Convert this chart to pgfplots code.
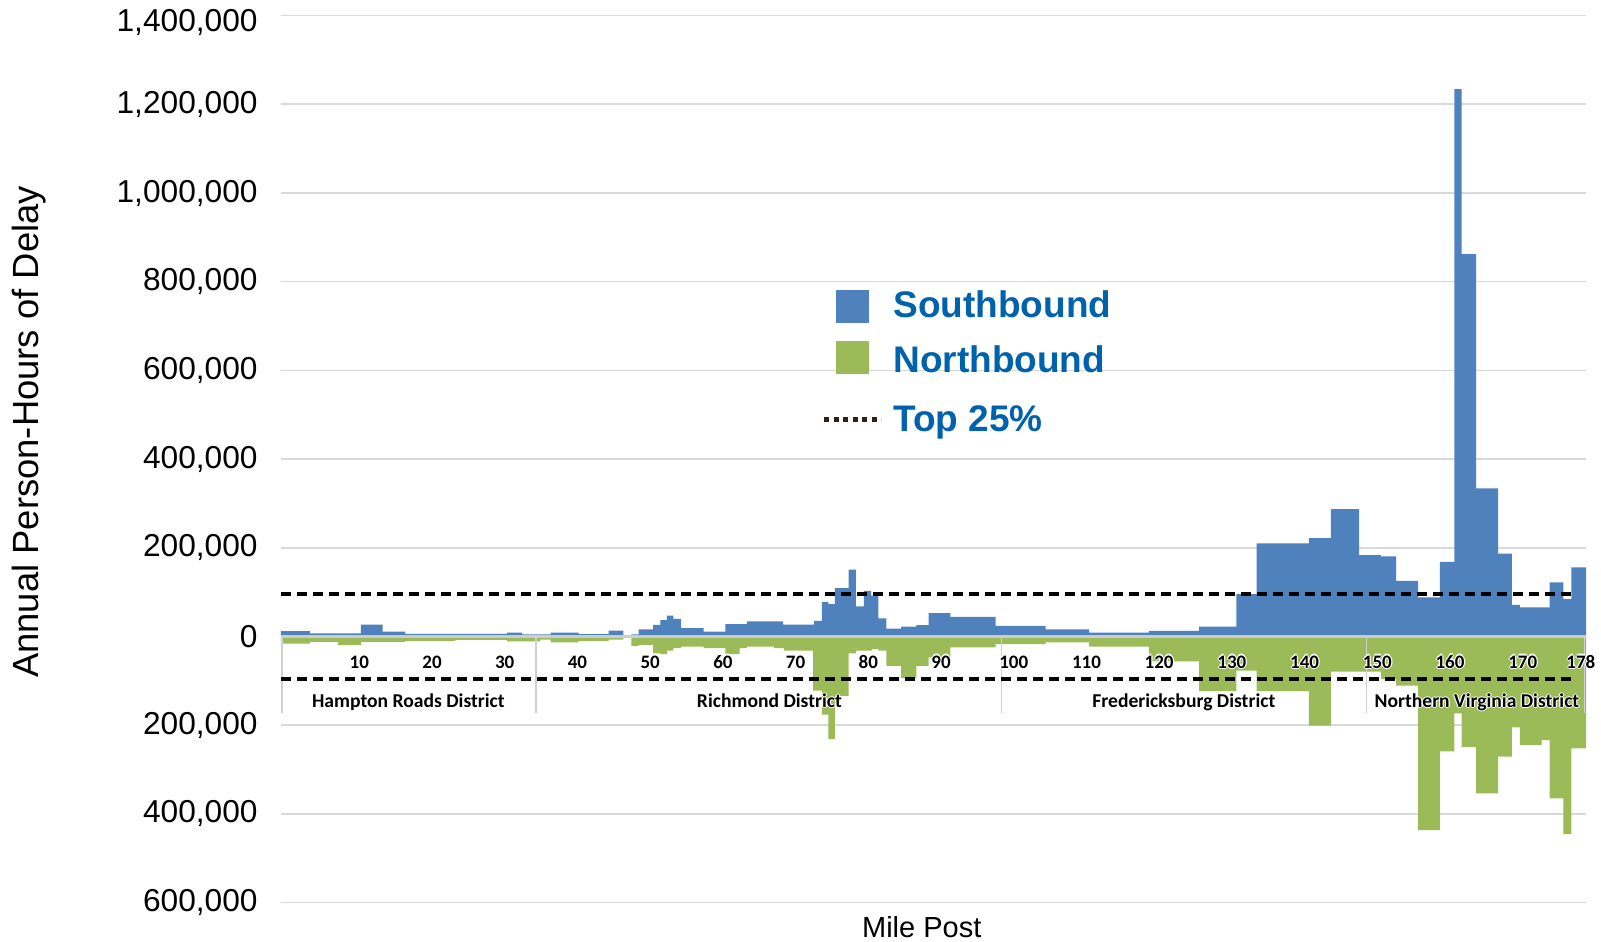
\documentclass[border=0pt]{standalone}
\usepackage{fontspec}
\setmainfont{Liberation Sans}
\newfontfamily\calibri{Carlito}
\usepackage{pgfplots}
\usepackage{pgfplotstable}
\pgfplotsset{compat=1.18}

\definecolor{sbblue}{RGB}{79,129,189}
\definecolor{nbgreen}{RGB}{155,187,89}
\definecolor{legtext}{RGB}{0,98,172}
\definecolor{gridcol}{RGB}{217,217,217}
\definecolor{legdot}{RGB}{42,33,24}

% white glow round labels that sit on the bars
\newcommand{\halo}[1]{{%
  \rlap{\textcolor{white}{\kern0.6pt#1}}%
  \rlap{\textcolor{white}{\kern-0.6pt#1}}%
  \rlap{\textcolor{white}{\raisebox{0.6pt}{#1}}}%
  \rlap{\textcolor{white}{\raisebox{-0.6pt}{#1}}}%
  #1}}

% left edge of each section (mile post) and its delay
\pgfplotstableread{
mile delay
-0.77 12000
3.2 7000
10.2 27000
13.2 11000
16.3 6000
30.3 9000
32.4 5000
36.3 9000
40.15 5500
44.3 13000
46.3 1000
47.4 5000
48.4 16000
50.4 26000
51.4 37000
52.3 47000
53.2 40000
54.25 19000
57.35 11000
60.35 28000
63.3 34000
68.3 27000
72.5 35000
73.6 78000
74.5 73000
75.4 109000
77.3 151000
78.3 68000
79.4 103000
80.4 92000
81.4 41000
82.5 18000
84.5 22500
86.6 25600
88.3 52700
91.3 44400
97.5 24000
104.4 16000
110.35 9000
118.6 12800
125.5 22000
130.6 95600
133.4 209700
140.6 222000
143.6 287000
147.5 183500
150.5 180400
152.6 125600
155.6 88000
158.6 168400
160.6 1234000
161.6 862000
163.6 333700
166.6 187000
168.5 71500
169.6 65400
173.7 121800
175.6 84000
176.7 155600
178.7 155600
}\southbound

\pgfplotstableread{
mile delay
-0.77 -15800
3.2 -12000
7.1 -18700
10.2 -12000
16.3 -9700
23.2 -7400
30.3 -11000
34.9 -7000
36.3 -13500
40.15 -9700
44.3 -6800
46.3 -1000
47.4 -21000
48.4 -18700
50.4 -38000
51.4 -40000
52.3 -32000
53.2 -26000
54.25 -23000
57.35 -26000
60.35 -40000
62.3 -26000
63.3 -23000
67.0 -26000
68.4 -32000
72.4 -122000
73.6 -176000
74.5 -231000
75.4 -134000
77.3 -38000
78.3 -32000
80.5 -28000
81.4 -32000
82.5 -66000
84.5 -94000
86.6 -66000
88.3 -47000
91.3 -24800
97.5 -17000
104.4 -13000
110.35 -23000
118.6 -56000
125.5 -123000
130.6 -77000
133.4 -123000
140.6 -201000
143.6 -79000
150.5 -96000
152.6 -111000
155.6 -436600
158.6 -259000
160.6 -173600
161.6 -248700
163.6 -354000
166.6 -271000
168.5 -205000
169.6 -245000
172.6 -233600
173.7 -365000
175.6 -445600
176.7 -252500
178.7 -252500
}\northbound

\begin{document}
\begin{tikzpicture}
\path[use as bounding box] (-140.5pt,-19.7pt) rectangle (660pt,451.3pt);
\begin{axis}[
    at={(0,0)}, anchor=south west,
    scale only axis,
    width=652.5pt, height=443.5pt,
    xmin=-0.77, xmax=178.7,
    ymin=-600000, ymax=1400000,
    clip mode=individual,
    axis line style={draw=none},
    major tick length=0pt,
    ymajorgrids=true,
    grid style={gridcol, line width=0.8pt},
    ytick={-600000,-400000,-200000,0,200000,400000,600000,800000,1000000,1200000},
    yticklabels={{600,000},{400,000},{200,000},0,{200,000},{400,000},{600,000},{800,000},{1,000,000},{1,200,000}},
    extra y ticks={1400000},
    extra y tick labels={1{,}400{,}000},
    extra y tick style={grid=major, yticklabel style={yshift=-3.5pt}},
    yticklabel style={font=\fontsize{15.85}{18}\selectfont, inner sep=0pt, anchor=east},
    yticklabel shift=11.5pt,
    xtick=\empty,
    ylabel={Annual Person-Hours of Delay},
    ylabel style={at={(axis description cs:-0.1931,0.5306)}, anchor=center, font=\fontsize{18.2}{20}\selectfont},
    xlabel={Mile Post},
    xlabel style={at={(axis description cs:0.491,-0.0388)}, anchor=base, font=\fontsize{14.5}{16}\selectfont, inner sep=0pt},
]
\addplot[const plot, fill=sbblue, draw=none] table[x=mile, y=delay] {\southbound} \closedcycle;
\addplot[const plot, fill=nbgreen, draw=none] table[x=mile, y=delay] {\northbound} \closedcycle;

% zero line and district separators
\draw[gray!40, line width=1.1pt] (axis cs:-0.77,0) -- (axis cs:178.7,0);
\pgfplotsinvokeforeach{-0.6,34.3,98.3,148.5,178.5}{
  \draw[gridcol!90!gray, line width=0.8pt] (axis cs:#1,0) -- (axis cs:#1,-172000);
}

% top 25% thresholds
\addplot[black, line width=1.75pt, dash pattern=on 5pt off 3pt] coordinates {(-0.77,96000) (177.3,96000)};
\addplot[black, line width=1.75pt, dash pattern=on 5pt off 3pt] coordinates {(-0.77,-96000) (177.3,-96000)};

% mile post labels, set over the bars
\pgfplotsinvokeforeach{10,20,30,40,50,60,70,80,90,100,110,120,130,140,150,160,170,178}{
  \node[font=\calibri\bfseries\fontsize{9.5}{11}\selectfont, anchor=base, inner sep=0pt, yshift=-15.8pt]
    at (axis cs:#1,0) {\halo{#1}};
}

\begin{scope}[every node/.style={font=\calibri\bfseries\fontsize{9.8}{11}\selectfont, anchor=base, inner sep=0pt}]
\node at (axis cs:16.75,-160000) {\halo{Hampton Roads District}};
\node at (axis cs:66.4,-160000) {\halo{Richmond District}};
\node at (axis cs:123.4,-160000) {\halo{Fredericksburg District}};
\node at (axis cs:163.7,-160000) {\halo{Northern Virginia District}};
\end{scope}
\end{axis}

% legend
\fill[sbblue] (277.5pt,289.95pt) rectangle (294pt,306.3pt);
\fill[nbgreen] (277.5pt,264.45pt) rectangle (294pt,280.95pt);
\draw[legdot, line width=2.5pt, dash pattern=on 2.5pt off 2.25pt] (271.5pt,241.3pt) -- (300pt,241.3pt);
\begin{scope}[every node/.style={font=\bfseries\fontsize{18.5}{20}\selectfont, text=legtext, anchor=base west, inner sep=0pt}]
\node at (306pt,292.45pt) {Southbound};
\node at (306pt,264.95pt) {Northbound};
\node at (306pt,235.3pt) {Top 25\%};
\end{scope}
\end{tikzpicture}
\end{document}
